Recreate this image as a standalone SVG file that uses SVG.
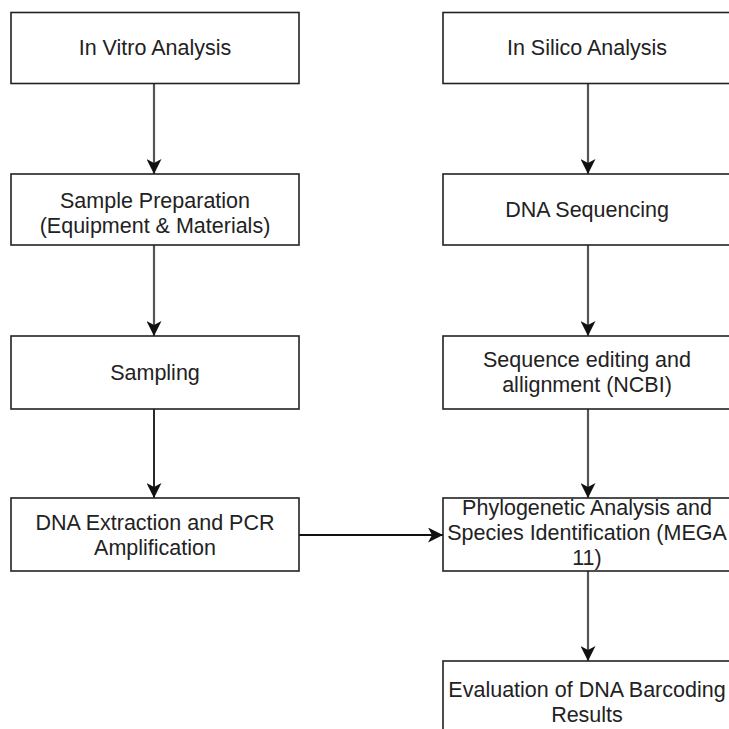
<svg xmlns="http://www.w3.org/2000/svg" width="729" height="729" viewBox="0 0 729 729">
<style>
.box{fill:#fff;stroke:#222;stroke-width:1.6}
.t{font-family:"Liberation Sans",Arial,sans-serif;font-size:21.5px;fill:#222;text-anchor:middle}
.c{fill:none;stroke:#555;stroke-width:2.2}
.k{fill:none;stroke:#111;stroke-width:1.8}
</style>
<defs>
<marker id="ah" viewBox="0 0 15 15" refX="15" refY="7.5" markerWidth="15" markerHeight="15" markerUnits="userSpaceOnUse" orient="auto">
<path d="M0,0 L15,7.5 L0,15 L4,7.5 Z" fill="#111"/>
</marker>
</defs>
<rect width="729" height="729" fill="#fff"/>
<g id="connectors">
<line class="c" x1="154" y1="83" x2="154" y2="174" marker-end="url(#ah)"/>
<line class="c" x1="154" y1="245" x2="154" y2="336" marker-end="url(#ah)"/>
<line class="k" x1="154" y1="409" x2="154" y2="498" marker-end="url(#ah)"/>
<line class="k" x1="299" y1="535" x2="443" y2="535" marker-end="url(#ah)"/>
<line class="c" x1="588" y1="83" x2="588" y2="174" marker-end="url(#ah)"/>
<line class="c" x1="588" y1="245" x2="588" y2="336" marker-end="url(#ah)"/>
<line class="c" x1="588" y1="409" x2="588" y2="498" marker-end="url(#ah)"/>
<line class="c" x1="588" y1="571" x2="588" y2="661" marker-end="url(#ah)"/>
</g>
<g id="in-vitro"><rect class="box" x="11" y="12.5" width="288" height="71"/><text class="t" x="155" y="55">In Vitro Analysis</text></g>
<g id="sample-prep"><rect class="box" x="11" y="174" width="288" height="71"/><text class="t" x="155" y="208">Sample Preparation</text><text class="t" x="155" y="233">(Equipment &amp; Materials)</text></g>
<g id="sampling"><rect class="box" x="11" y="336" width="288" height="73"/><text class="t" x="155" y="380">Sampling</text></g>
<g id="dna-extraction"><rect class="box" x="11" y="498" width="288" height="73"/><text class="t" x="155" y="530">DNA Extraction and PCR</text><text class="t" x="155" y="555">Amplification</text></g>
<g id="in-silico"><rect class="box" x="443" y="12.5" width="288" height="71"/><text class="t" x="587" y="55">In Silico Analysis</text></g>
<g id="dna-seq"><rect class="box" x="443" y="174" width="288" height="71"/><text class="t" x="587" y="217">DNA Sequencing</text></g>
<g id="seq-edit"><rect class="box" x="443" y="336" width="288" height="73"/><text class="t" x="587" y="367">Sequence editing and</text><text class="t" x="587" y="392">allignment (NCBI)</text></g>
<g id="phylo"><rect class="box" x="443" y="498" width="288" height="73"/><text class="t" x="587" y="515">Phylogenetic Analysis and</text><text class="t" x="587" y="540">Species Identification (MEGA</text><text class="t" x="587" y="565">11)</text></g>
<g id="evaluation"><rect class="box" x="443" y="661" width="288" height="73"/><text class="t" x="587" y="697">Evaluation of DNA Barcoding</text><text class="t" x="587" y="722">Results</text></g>
</svg>
